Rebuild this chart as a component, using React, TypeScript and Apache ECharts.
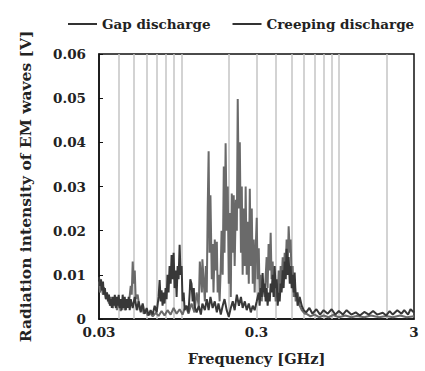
import React, { useEffect, useRef } from "react";
import * as echarts from "echarts";

// Frequency [GHz], intensity [V]
const GAP_DISCHARGE: [number, number][] = [
  [0.030, 0.0085], [0.0304, 0.0060], [0.0309, 0.0080], [0.0318, 0.0055], [0.0322, 0.0072], [0.0332, 0.0045],
  [0.0337, 0.0060], [0.0347, 0.0035], [0.0357, 0.0050], [0.0368, 0.0025], [0.0378, 0.0045], [0.0390, 0.0020],
  [0.0400, 0.0040], [0.0412, 0.0018], [0.0424, 0.0042], [0.0437, 0.0020], [0.0450, 0.0035], [0.0463, 0.0030],
  [0.0477, 0.0075], [0.0484, 0.0055], [0.0491, 0.0130], [0.0498, 0.0080], [0.0506, 0.0110], [0.0513, 0.0045],
  [0.0528, 0.0055], [0.0544, 0.0020], [0.0560, 0.0030], [0.0577, 0.0012], [0.0594, 0.0020], [0.0611, 0.0008],
  [0.0629, 0.0015], [0.0658, 0.0006], [0.0688, 0.0014], [0.0717, 0.0007], [0.0749, 0.0018], [0.0782, 0.0008],
  [0.0817, 0.0020], [0.0855, 0.0010], [0.0893, 0.0025], [0.0933, 0.0012], [0.0975, 0.0022], [0.1018, 0.0010],
  [0.1064, 0.0030], [0.111, 0.0012], [0.116, 0.0035], [0.121, 0.0015], [0.125, 0.0060], [0.129, 0.0030],
  [0.131, 0.0130], [0.135, 0.0060], [0.136, 0.0135], [0.141, 0.0040], [0.143, 0.0120], [0.145, 0.0060],
  [0.147, 0.0250], [0.149, 0.0380], [0.151, 0.0150], [0.153, 0.0280], [0.156, 0.0090], [0.158, 0.0170],
  [0.160, 0.0060], [0.163, 0.0180], [0.165, 0.0110], [0.168, 0.0175], [0.170, 0.0060], [0.172, 0.0100],
  [0.175, 0.0040], [0.178, 0.0120], [0.180, 0.0200], [0.183, 0.0100], [0.186, 0.0345], [0.188, 0.0150],
  [0.191, 0.0398], [0.194, 0.0200], [0.197, 0.0300], [0.200, 0.0080], [0.203, 0.0240], [0.206, 0.0050],
  [0.209, 0.0284], [0.212, 0.0150], [0.215, 0.0280], [0.218, 0.0120], [0.222, 0.0270], [0.225, 0.0200],
  [0.228, 0.0498], [0.232, 0.0250], [0.235, 0.0400], [0.239, 0.0150], [0.242, 0.0300], [0.245, 0.0100],
  [0.249, 0.0250], [0.253, 0.0120], [0.256, 0.0300], [0.260, 0.0100], [0.264, 0.0220], [0.268, 0.0080],
  [0.272, 0.0295], [0.276, 0.0120], [0.280, 0.0250], [0.284, 0.0080], [0.288, 0.0180], [0.292, 0.0060],
  [0.296, 0.0150], [0.301, 0.0229], [0.305, 0.0090], [0.310, 0.0160], [0.314, 0.0060], [0.319, 0.0100],
  [0.324, 0.0040], [0.328, 0.0080], [0.338, 0.0050], [0.348, 0.0140], [0.353, 0.0070], [0.358, 0.0170],
  [0.364, 0.0110], [0.369, 0.0195], [0.374, 0.0090], [0.380, 0.0130], [0.386, 0.0050], [0.391, 0.0090],
  [0.397, 0.0040], [0.403, 0.0080], [0.409, 0.0050], [0.415, 0.0110], [0.421, 0.0060], [0.427, 0.0120],
  [0.433, 0.0080], [0.440, 0.0140], [0.446, 0.0090], [0.453, 0.0150], [0.460, 0.0120], [0.466, 0.0180],
  [0.473, 0.0110], [0.480, 0.0210], [0.488, 0.0150], [0.494, 0.0180], [0.502, 0.0080], [0.509, 0.0120],
  [0.517, 0.0050], [0.524, 0.0090], [0.532, 0.0040], [0.547, 0.0060], [0.564, 0.0030], [0.581, 0.0020],
  [0.607, 0.0012], [0.62, 0.0012], [0.66, 0.0006], [0.70, 0.0010], [0.75, 0.0004], [0.80, 0.0008],
  [0.86, 0.0004], [0.92, 0.0009], [1.0, 0.0004], [1.1, 0.0008], [1.2, 0.0004], [1.3, 0.0007],
  [1.45, 0.0004], [1.6, 0.0008], [1.8, 0.0004], [2.0, 0.0007], [2.2, 0.0004], [2.45, 0.0008],
  [2.7, 0.0004], [3.0, 0.0006],
];

const CREEPING_DISCHARGE: [number, number][] = [
  [0.030, 0.0095], [0.0304, 0.0075], [0.0309, 0.0090], [0.0313, 0.0065], [0.0318, 0.0085], [0.0322, 0.0055],
  [0.0327, 0.0070], [0.0332, 0.0045], [0.0337, 0.0060], [0.0342, 0.0040], [0.0347, 0.0055], [0.0352, 0.0030],
  [0.0357, 0.0045], [0.0362, 0.0025], [0.0368, 0.0050], [0.0373, 0.0030], [0.0378, 0.0055], [0.0384, 0.0025],
  [0.0390, 0.0050], [0.0395, 0.0030], [0.0400, 0.0055], [0.0406, 0.0025], [0.0412, 0.0045], [0.0418, 0.0020],
  [0.0424, 0.0055], [0.0431, 0.0025], [0.0437, 0.0050], [0.0444, 0.0020], [0.0450, 0.0045], [0.0457, 0.0025],
  [0.0463, 0.0050], [0.0470, 0.0020], [0.0477, 0.0045], [0.0491, 0.0025], [0.0506, 0.0050], [0.0521, 0.0020],
  [0.0536, 0.0040], [0.0552, 0.0015], [0.0568, 0.0035], [0.0585, 0.0012], [0.0602, 0.0025], [0.0620, 0.0008],
  [0.0638, 0.0020], [0.0658, 0.0010], [0.0677, 0.0030], [0.0697, 0.0015], [0.0717, 0.0050], [0.0728, 0.0088],
  [0.0739, 0.0040], [0.0749, 0.0065], [0.0760, 0.0030], [0.0771, 0.0060], [0.0782, 0.0035], [0.0794, 0.0070],
  [0.0806, 0.0045], [0.0817, 0.0100], [0.0829, 0.0060], [0.0842, 0.0120], [0.0855, 0.0080], [0.0867, 0.0145],
  [0.0880, 0.0090], [0.0893, 0.0150], [0.0906, 0.0070], [0.0920, 0.0110], [0.0933, 0.0050], [0.0947, 0.0120],
  [0.0960, 0.0090], [0.0975, 0.0168], [0.0989, 0.0100], [0.1004, 0.0120], [0.1018, 0.0040], [0.1034, 0.0060],
  [0.1049, 0.0020], [0.108, 0.0030], [0.111, 0.0015], [0.113, 0.0060], [0.114, 0.0090], [0.116, 0.0080],
  [0.118, 0.0040], [0.120, 0.0070], [0.121, 0.0030], [0.125, 0.0015], [0.129, 0.0030], [0.133, 0.0010],
  [0.136, 0.0035], [0.141, 0.0020], [0.145, 0.0045], [0.149, 0.0020], [0.153, 0.0050], [0.158, 0.0025],
  [0.163, 0.0040], [0.168, 0.0015], [0.172, 0.0035], [0.178, 0.0010], [0.183, 0.0030], [0.188, 0.0045],
  [0.194, 0.0020], [0.200, 0.0005], [0.206, 0.0025], [0.212, 0.0040], [0.218, 0.0020], [0.225, 0.0055],
  [0.232, 0.0030], [0.239, 0.0050], [0.245, 0.0025], [0.253, 0.0040], [0.260, 0.0020], [0.268, 0.0035],
  [0.276, 0.0015], [0.284, 0.0030], [0.292, 0.0020], [0.301, 0.0040], [0.310, 0.0060], [0.314, 0.0030],
  [0.319, 0.0070], [0.324, 0.0050], [0.328, 0.0104], [0.333, 0.0060], [0.338, 0.0080], [0.343, 0.0040],
  [0.348, 0.0070], [0.353, 0.0030], [0.358, 0.0060], [0.364, 0.0040], [0.369, 0.0080], [0.374, 0.0060],
  [0.380, 0.0100], [0.386, 0.0050], [0.391, 0.0120], [0.397, 0.0070], [0.403, 0.0090], [0.409, 0.0030],
  [0.415, 0.0060], [0.421, 0.0040], [0.427, 0.0080], [0.433, 0.0060], [0.440, 0.0110], [0.446, 0.0070],
  [0.453, 0.0130], [0.460, 0.0090], [0.466, 0.0159], [0.473, 0.0100], [0.480, 0.0140], [0.488, 0.0080],
  [0.494, 0.0120], [0.502, 0.0070], [0.509, 0.0100], [0.517, 0.0060], [0.524, 0.0105], [0.532, 0.0050],
  [0.540, 0.0060], [0.547, 0.0030], [0.564, 0.0050], [0.581, 0.0030], [0.598, 0.0020], [0.62, 0.0015],
  [0.65, 0.0025], [0.68, 0.0012], [0.72, 0.0022], [0.76, 0.0010], [0.80, 0.0020], [0.85, 0.0012],
  [0.90, 0.0022], [0.95, 0.0010], [1.0, 0.0018], [1.06, 0.0010], [1.12, 0.0020], [1.2, 0.0010],
  [1.28, 0.0015], [1.36, 0.0008], [1.45, 0.0016], [1.55, 0.0010], [1.65, 0.0018], [1.75, 0.0010],
  [1.9, 0.0014], [2.0, 0.0008], [2.1, 0.0018], [2.2, 0.0010], [2.35, 0.0020], [2.5, 0.0012],
  [2.6, 0.0020], [2.75, 0.0010], [2.85, 0.0022], [3.0, 0.0015],
];

const SERIES_NAMES = ["Gap discharge", "Creeping discharge"];
const GRID_FREQS = [0.04, 0.05, 0.06, 0.07, 0.08, 0.09, 0.1, 0.2, 0.3, 0.4, 0.5, 0.6, 0.7, 0.8, 0.9, 1, 2];
const X_LABELS = [0.03, 0.3, 3];
const Y_MIN = 0;
const Y_MAX = 0.06;
const Y_STEP = 0.01;

const FONT = "DejaVu Serif";

export default function App() {
  const ref = useRef<HTMLDivElement>(null);
  useEffect(() => {
    if (!ref.current) return;
    const chart = echarts.init(ref.current, null, { renderer: "svg" });
    const base = { fontFamily: FONT, fontWeight: "bold" as const, color: "#222" };
    chart.setOption({
      animation: false,
      backgroundColor: "#fff",
      textStyle: { fontFamily: FONT },
      legend: {
        top: 12,
        left: 63,
        itemGap: 22,
        itemWidth: 29,
        itemHeight: 2,
        icon: "rect",
        itemStyle: { color: "#333" },
        textStyle: { ...base, fontSize: 13.5 },
        data: SERIES_NAMES,
      },
      grid: {
        left: 99,
        right: 11,
        top: 54,
        bottom: 46,
        show: true,
        borderColor: "#111",
        borderWidth: 1.5,
        backgroundColor: "transparent",
      },
      xAxis: {
        type: "log",
        logBase: 10,
        min: 0.03,
        max: 3,
        name: "Frequency [GHz]",
        nameLocation: "middle",
        nameGap: 32,
        nameTextStyle: { ...base, fontSize: 14.5 },
        axisLine: { show: true, lineStyle: { color: "#111", width: 1.5 } },
        axisTick: { show: false },
        splitLine: { show: false },
        minorSplitLine: { show: false },
        axisLabel: {
          ...base,
          fontSize: 13.5,
          margin: 6,
          customValues: X_LABELS,
          formatter: (v: number) => String(parseFloat(Number(v).toPrecision(3))),
        },
      },
      yAxis: {
        type: "value",
        min: Y_MIN,
        max: Y_MAX,
        interval: Y_STEP,
        name: "Radiation intensity of EM waves [V]",
        nameLocation: "middle",
        nameGap: 66,
        nameTextStyle: { ...base, fontSize: 15.5 },
        axisLine: { show: true, lineStyle: { color: "#111", width: 1.5 } },
        axisTick: { show: true, inside: true, length: 4, lineStyle: { color: "#111", width: 1 } },
        splitLine: { show: false },
        axisLabel: {
          ...base,
          fontSize: 13.5,
          margin: 13,
          formatter: (v: number) => (v === 0 ? "0" : v.toFixed(2)),
        },
      },
      series: [
        {
          name: SERIES_NAMES[0],
          type: "line",
          data: GAP_DISCHARGE,
          showSymbol: false,
          symbol: "none",
          lineStyle: { color: "#6a6a6a", width: 2 },
          itemStyle: { color: "#6a6a6a" },
          z: 3,
          markLine: {
            silent: true,
            z: 1,
            symbol: ["none", "none"],
            label: { show: false },
            lineStyle: { color: "#c4c4c4", width: 1.5, type: "solid" },
            data: GRID_FREQS.map((f) => ({ xAxis: f })),
          },
        },
        {
          name: SERIES_NAMES[1],
          type: "line",
          data: CREEPING_DISCHARGE,
          showSymbol: false,
          symbol: "none",
          lineStyle: { color: "#383838", width: 2 },
          itemStyle: { color: "#383838" },
          z: 4,
        },
      ],
    });
    return () => chart.dispose();
  }, []);
  return <div ref={ref} style={{ width: 425, height: 371, position: "absolute", left: 0, top: 0 }} />;
}
